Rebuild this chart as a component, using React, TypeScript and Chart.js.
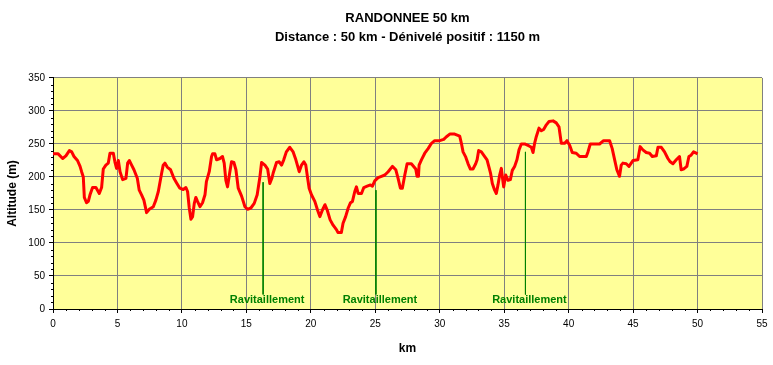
import { useEffect, useRef } from "react";
import { Chart, registerables } from "chart.js";

Chart.register(...registerables);

const titleLines = ["RANDONNEE 50 km", "Distance : 50 km - Dénivelé positif : 1150 m"];
const xAxisTitle = "km";
const yAxisTitle = "Altitude (m)";

const kmValues = [
  0.0, 0.4, 0.75, 1.0, 1.27, 1.45, 1.63, 1.9, 2.1, 2.22, 2.35, 2.43, 2.6, 2.74, 2.87, 3.07, 3.33, 3.59, 3.77, 3.9,
  4.1, 4.29, 4.42, 4.68, 4.8, 4.93, 5.07, 5.2, 5.4, 5.66, 5.79, 5.92, 6.1, 6.28, 6.54, 6.69, 6.87, 7.05, 7.26, 7.47,
  7.78, 7.98, 8.17, 8.43, 8.55, 8.68, 8.86, 9.12, 9.38, 9.59, 9.84, 10.1, 10.31, 10.44, 10.57, 10.7, 10.83, 10.96, 11.08, 11.21,
  11.4, 11.6, 11.79, 11.9, 12.12, 12.3, 12.38, 12.56, 12.69, 12.95, 13.15, 13.28, 13.41, 13.54, 13.72, 13.85, 14.03, 14.19, 14.37, 14.63,
  14.89, 15.09, 15.35, 15.61, 15.84, 16.05, 16.18, 16.44, 16.65, 16.82, 16.98, 17.08, 17.34, 17.55, 17.73, 17.9, 18.1, 18.37, 18.63, 18.84,
  19.1, 19.28, 19.46, 19.61, 19.74, 19.87, 20.05, 20.31, 20.52, 20.7, 20.9, 21.1, 21.27, 21.5, 21.73, 22.0, 22.1, 22.37, 22.5, 22.7,
  22.9, 23.08, 23.23, 23.41, 23.54, 23.67, 23.93, 24.11, 24.37, 24.63, 24.78, 24.96, 25.22, 25.48, 25.74, 26.0, 26.33, 26.59, 26.77, 26.95,
  27.1, 27.29, 27.47, 27.8, 28.14, 28.24, 28.35, 28.4, 28.58, 28.84, 29.1, 29.36, 29.61, 30.0, 30.31, 30.52, 30.78, 31.16, 31.55, 31.68,
  31.81, 32.02, 32.2, 32.38, 32.58, 32.79, 32.9, 33.02, 33.23, 33.49, 33.67, 33.82, 33.95, 34.08, 34.26, 34.39, 34.52, 34.65, 34.78, 34.86,
  34.96, 35.12, 35.3, 35.48, 35.63, 35.81, 35.99, 36.15, 36.33, 36.59, 36.93, 37.11, 37.24, 37.36, 37.49, 37.7, 37.88, 38.06, 38.27, 38.48,
  38.79, 39.04, 39.25, 39.43, 39.69, 39.87, 40.08, 40.28, 40.59, 40.85, 41.37, 41.5, 41.68, 42.4, 42.71, 43.18, 43.38, 43.57, 43.74, 43.95,
  44.08, 44.21, 44.47, 44.68, 45.0, 45.37, 45.55, 45.76, 46.02, 46.28, 46.49, 46.8, 46.93, 47.19, 47.44, 47.7, 47.88, 48.09, 48.35, 48.6,
  48.73, 48.91, 49.17, 49.33, 49.5, 49.69, 49.9, 50.0,
];

const altitudes = [
  235, 235, 228, 232, 240, 238, 231, 225, 216, 208, 200, 169, 161, 163, 173, 184, 184, 175, 184, 212,
  218, 221, 236, 236, 223, 213, 225, 208, 196, 198, 221, 225, 218, 211, 198, 180, 173, 165, 146, 151,
  155, 165, 178, 206, 218, 221, 215, 211, 198, 191, 183, 181, 184, 178, 153, 136, 140, 160, 169, 163,
  155, 161, 173, 193, 208, 231, 235, 235, 226, 228, 231, 221, 195, 185, 208, 223, 222, 211, 183, 171,
  155, 151, 153, 160, 173, 200, 222, 218, 212, 190, 198, 206, 222, 223, 218, 226, 238, 245, 238, 226,
  208, 218, 223, 218, 200, 183, 173, 163, 150, 140, 150, 158, 150, 135, 127, 120, 116, 116, 130, 140,
  153, 161, 163, 178, 185, 175, 175, 184, 186, 188, 186, 194, 199, 201, 203, 208, 216, 211, 198, 183,
  183, 203, 220, 220, 212, 201, 201, 218, 226, 236, 243, 251, 255, 255, 257, 261, 265, 265, 262, 251,
  238, 230, 220, 212, 212, 220, 226, 240, 238, 231, 226, 215, 205, 190, 180, 175, 188, 203, 213, 200,
  185, 203, 195, 196, 210, 216, 226, 241, 250, 250, 247, 245, 237, 251, 261, 274, 270, 272, 279, 284,
  285, 282, 276, 251, 251, 255, 248, 237, 236, 231, 231, 238, 250, 250, 255, 255, 243, 226, 211, 201,
  218, 221, 220, 216, 225, 226, 246, 241, 237, 236, 231, 232, 245, 245, 238, 228, 223, 220, 226, 231,
  211, 212, 216, 231, 233, 238, 236, 235,
];

const stopKm = [16.3, 25.05, 36.65];
const stopTopAlt = [192, 180, 238];
const stopBottomAlt = [22, 22, 22];
const stopLabel = "Ravitaillement";
const stopLabelAlt = 14;

const xMin = 0;
const xMax = 55;
const xStep = 5;
const yMin = 0;
const yMax = 350;
const yStep = 50;
const xMinorStep = 1;
const yMinorStep = 10;

const FONT = "'Liberation Sans', Arial, sans-serif";

const decorPlugin = {
  id: "decor",
  beforeDraw(chart: any) {
    const { ctx, chartArea: a } = chart;
    ctx.save();
    ctx.fillStyle = "#FFFF99";
    ctx.fillRect(a.left, a.top, a.right - a.left, a.bottom - a.top);
    ctx.restore();
  },
  afterDraw(chart: any) {
    const { ctx, chartArea: a, scales } = chart;
    const xs = scales.x;
    const ys = scales.y;
    ctx.save();
    ctx.strokeStyle = "#000000";
    ctx.lineWidth = 1;
    ctx.beginPath();
    for (let k = xMin; k <= xMax; k += xMinorStep) {
      if (k % xStep === 0) continue;
      const x = Math.round(xs.getPixelForValue(k)) + 0.5;
      ctx.moveTo(x, a.bottom);
      ctx.lineTo(x, a.bottom + 2);
    }
    for (let v = yMin; v <= yMax; v += yMinorStep) {
      if (v % yStep === 0) continue;
      const y = Math.round(ys.getPixelForValue(v)) + 0.5;
      ctx.moveTo(a.left - 2, y);
      ctx.lineTo(a.left, y);
    }
    ctx.stroke();

    ctx.fillStyle = "#008000";
    ctx.font = `bold 11px ${FONT}`;
    ctx.textAlign = "center";
    ctx.textBaseline = "middle";
    stopKm.forEach((k) => {
      ctx.fillText(stopLabel, xs.getPixelForValue(k) + 4, ys.getPixelForValue(stopLabelAlt));
    });
    ctx.restore();
  },
};

export default function App() {
  const ref = useRef<HTMLCanvasElement | null>(null);

  useEffect(() => {
    document.body.style.margin = "0";
    const canvas = ref.current;
    if (!canvas) return;

    const profile = kmValues.map((k, i) => ({ x: k, y: altitudes[i] }));
    const stopSets = stopKm.map((k, i) => ({
      label: stopLabel + " " + (i + 1),
      data: [
        { x: k, y: stopTopAlt[i] },
        { x: k, y: stopBottomAlt[i] },
      ],
      borderColor: "#008000",
      borderWidth: 1,
      pointRadius: 0,
      fill: false,
      tension: 0,
    }));

    const chart = new Chart(canvas, {
      type: "line",
      data: {
        datasets: [
          ...stopSets,
          {
            label: "Altitude",
            data: profile,
            borderColor: "#FF0000",
            borderWidth: 3,
            pointRadius: 0,
            fill: false,
            tension: 0,
            borderJoinStyle: "round",
          },
        ],
      },
      options: {
        animation: false,
        responsive: false,
        devicePixelRatio: 1,
        layout: { padding: { top: 0, right: 11, bottom: 0, left: 0 } },
        plugins: {
          legend: { display: false },
          tooltip: { enabled: false },
          title: {
            display: true,
            text: titleLines,
            fullSize: false,
            color: "#000000",
            font: { family: FONT, size: 13, weight: "bold", lineHeight: 1.46 },
            padding: { top: 8.5, bottom: 31.5 },
          },
        },
        scales: {
          x: {
            type: "linear",
            min: xMin,
            max: xMax,
            afterFit: (s: any) => {
              s.height = 56;
            },
            ticks: {
              stepSize: xStep,
              color: "#000000",
              font: { family: FONT, size: 10 },
              padding: 5,
              maxRotation: 0,
            },
            grid: {
              color: "#808080",
              lineWidth: 1,
              tickColor: "#000000",
              tickLength: 4,
              drawTicks: true,
            },
            border: { display: true, color: "#000000", width: 1 },
            title: {
              display: true,
              text: xAxisTitle,
              color: "#000000",
              font: { family: FONT, size: 12, weight: "bold" },
              padding: { top: 0, bottom: 9.4 },
            },
          },
          y: {
            type: "linear",
            min: yMin,
            max: yMax,
            afterFit: (s: any) => {
              s.width = 53;
            },
            ticks: {
              stepSize: yStep,
              color: "#000000",
              font: { family: FONT, size: 10 },
              padding: 4,
            },
            grid: {
              color: "#808080",
              lineWidth: 1,
              tickColor: "#000000",
              tickLength: 4,
              drawTicks: true,
            },
            border: { display: true, color: "#000000", width: 1 },
            title: {
              display: true,
              text: yAxisTitle,
              color: "#000000",
              font: { family: FONT, size: 12, weight: "bold" },
              padding: { top: 5.4, bottom: 0 },
            },
          },
        },
      },
      plugins: [decorPlugin],
    } as any);

    return () => chart.destroy();
  }, []);

  return <canvas ref={ref} width={773} height={365} style={{ display: "block" }} />;
}
